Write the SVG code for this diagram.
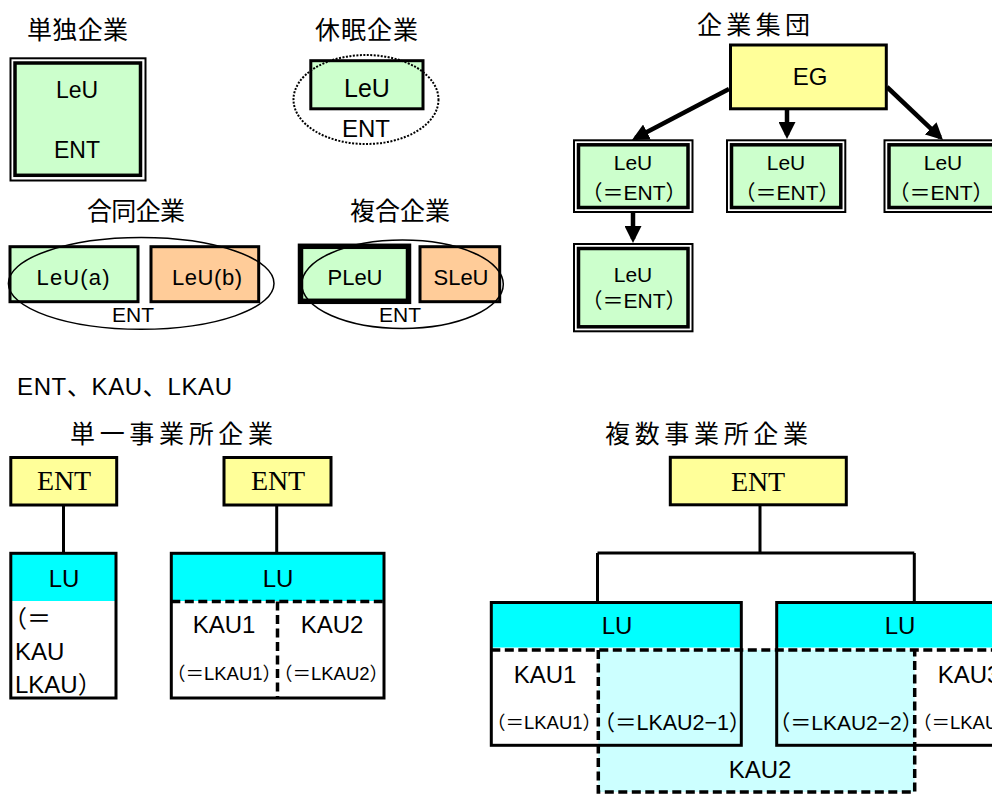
<svg xmlns="http://www.w3.org/2000/svg" width="992" height="796" viewBox="0 0 992 796">
<defs>
<style>
.t{font-family:"Liberation Sans","Noto Sans CJK JP",sans-serif;fill:#000}
.h{font-family:"Noto Sans CJK JP","Liberation Sans",sans-serif;font-size:25px;fill:#000}
.sf{font-family:"Liberation Serif","Noto Serif CJK JP",serif;font-size:28px;fill:#000}
.c{text-anchor:middle}
.g{fill:#ccffcc;stroke:#000;stroke-width:3}
.o{fill:#ffcc99;stroke:#000;stroke-width:3}
.y{fill:#ffff99;stroke:#000;stroke-width:3}
.dout{fill:#fff;stroke:#000;stroke-width:2}
.din{fill:#ccffcc;stroke:#000;stroke-width:3.5}
.ell{fill:none;stroke:#000;stroke-width:1.5}
.dot{fill:none;stroke:#000;stroke-width:2;stroke-dasharray:2 1.5}
.dash{fill:none;stroke:#000;stroke-width:3.5;stroke-dasharray:9 4.5}
.ln{fill:none;stroke:#000;stroke-width:3}
.box{fill:none;stroke:#000;stroke-width:3}
.arr{fill:none;stroke:#000;stroke-width:4.5;marker-end:url(#ah)}
</style>
<marker id="ah" markerUnits="userSpaceOnUse" markerWidth="17" markerHeight="17" refX="13" refY="8.5" orient="auto"><path d="M0,0 L17,8.5 L0,17 z" fill="#000"/></marker>
</defs>
<rect x="0" y="0" width="992" height="796" fill="#fff"/>

<g id="titles">
<text class="h" x="27" y="39" textLength="101">単独企業</text>
<text class="h" x="315" y="39" textLength="103">休眠企業</text>
<text class="h" x="87" y="220" textLength="98">合同企業</text>
<text class="h" x="350" y="220" textLength="100">複合企業</text>
<text class="h" x="697" y="34" font-size="26" textLength="113">企業集団</text>
<text class="t" x="17" y="395" font-size="24" textLength="215">ENT、KAU、LKAU</text>
<text class="h" x="70" y="443" font-size="26" textLength="203">単一事業所企業</text>
<text class="h" x="605" y="443" font-size="26" textLength="203">複数事業所企業</text>
</g>

<g id="sole">
<rect class="dout" x="10.5" y="58.3" width="135" height="122.2"/>
<rect class="din" x="15" y="63" width="125.5" height="112.3"/>
<text class="t c" x="77" y="98" font-size="23">LeU</text>
<text class="t c" x="77" y="158" font-size="23">ENT</text>
</g>

<g id="dormant">
<rect class="g" x="310.8" y="60.7" width="112.2" height="48.1"/>
<text class="t c" x="367" y="97" font-size="25">LeU</text>
<ellipse class="dot" cx="366" cy="99.5" rx="72.5" ry="44.5"/>
<text class="t c" x="366" y="137" font-size="24">ENT</text>
</g>

<g id="joint">
<rect class="g" x="10" y="246.7" width="128" height="55"/>
<rect class="o" x="151" y="246.7" width="107.7" height="55"/>
<text class="t c" x="73" y="285" font-size="22" textLength="73">LeU(a)</text>
<text class="t c" x="207" y="285" font-size="22" textLength="70">LeU(b)</text>
<ellipse class="ell" cx="141.2" cy="283.4" rx="132.8" ry="45.9"/>
<text class="t c" x="133" y="322" font-size="21">ENT</text>
</g>

<g id="complex">
<rect fill="#ccffcc" stroke="#000" stroke-width="5.5" x="300.5" y="246.3" width="108" height="55"/>
<rect class="o" x="420" y="246.7" width="79.7" height="55"/>
<text class="t c" x="355" y="285" font-size="22">PLeU</text>
<text class="t c" x="461" y="285" font-size="22">SLeU</text>
<ellipse class="ell" cx="402.5" cy="284.2" rx="100.8" ry="44.2"/>
<text class="t c" x="400" y="322" font-size="21">ENT</text>
</g>

<g id="eg">
<rect class="y" x="730.5" y="45" width="155.8" height="63.8"/>
<text class="t c" x="810" y="85" font-size="24">EG</text>
</g>

<g id="leu1">
<rect class="dout" x="574" y="140.3" width="118.5" height="71.7"/>
<rect class="din" x="578.5" y="144.8" width="109.5" height="62.7"/>
<text class="t c" x="633" y="170" font-size="21">LeU</text>
<text class="t c" x="634" y="200" font-size="21">（＝ENT）</text>
</g>
<g id="leu2">
<rect class="dout" x="727" y="140.3" width="118.3" height="71.7"/>
<rect class="din" x="731.5" y="144.8" width="109.3" height="62.7"/>
<text class="t c" x="786" y="170" font-size="21">LeU</text>
<text class="t c" x="787" y="200" font-size="21">（＝ENT）</text>
</g>
<g id="leu3">
<rect class="dout" x="884.5" y="140.3" width="118.5" height="71.7"/>
<rect class="din" x="889" y="144.8" width="109.5" height="62.7"/>
<text class="t c" x="943" y="170" font-size="21">LeU</text>
<text class="t c" x="941" y="200" font-size="21">（＝ENT）</text>
</g>
<g id="leu4">
<rect class="dout" x="574" y="244" width="118.5" height="87.3"/>
<rect class="din" x="578.5" y="248.5" width="109.5" height="78.3"/>
<text class="t c" x="633" y="282" font-size="21">LeU</text>
<text class="t c" x="634" y="308" font-size="21">（＝ENT）</text>
</g>

<g id="eg-connectors">
<line class="arr" x1="729" y1="89" x2="635.5" y2="138.1"/>
<line class="arr" x1="787" y1="109" x2="787" y2="135"/>
<line class="arr" x1="887" y1="87" x2="940.1" y2="137.3"/>
<line class="arr" x1="633" y1="212" x2="633" y2="239"/>
</g>

<g id="single-ent1">
<rect class="y" x="10.8" y="457.5" width="105.9" height="47.5"/>
<text class="sf c" x="64" y="490" textLength="54">ENT</text>
</g>
<g id="single-ent2">
<rect class="y" x="224" y="457.5" width="107" height="47.5"/>
<text class="sf c" x="278" y="490" textLength="54">ENT</text>
</g>
<g id="single-connectors">
<line class="ln" x1="63.5" y1="505" x2="63.5" y2="553"/>
<line class="ln" x1="276.7" y1="505" x2="276.7" y2="553"/>
</g>
<g id="single-lu1">
<rect x="10.8" y="553.3" width="105.2" height="144.7" fill="#fff"/>
<rect x="10.8" y="553.3" width="105.2" height="47.7" fill="#00ffff"/>
<rect class="box" x="10.8" y="553.3" width="105.2" height="144.7"/>
<text class="t c" x="64" y="587" font-size="24">LU</text>
<text class="t" x="3" y="627" font-size="24">（＝</text>
<text class="t" x="15" y="660" font-size="24">KAU</text>
<text class="t" x="15" y="693" font-size="24">LKAU）</text>
</g>
<g id="single-lu2">
<rect x="171.3" y="553.3" width="212.7" height="144.7" fill="#fff"/>
<rect x="171.3" y="553.3" width="212.7" height="47.7" fill="#00ffff"/>
<rect class="box" x="171.3" y="553.3" width="212.7" height="144.7"/>
<path class="dash" d="M171.3,601.5 H384 M277.5,601.5 V698"/>
<text class="t c" x="278" y="587" font-size="24">LU</text>
<text class="t c" x="224" y="633" font-size="24">KAU1</text>
<text class="t c" x="332" y="633" font-size="24">KAU2</text>
<text class="t c" x="224" y="680" font-size="18.5">（＝LKAU1）</text>
<text class="t c" x="331" y="680" font-size="18.5">（＝LKAU2）</text>
</g>

<g id="multi-ent">
<rect class="y" x="670.3" y="457.3" width="176" height="47.5"/>
<text class="sf c" x="758" y="491" textLength="54">ENT</text>
</g>
<g id="multi-connectors">
<path class="ln" d="M760,505 V553 M597.5,553 H914.3 M597.5,553 V602 M914.3,553 V602"/>
</g>
<g id="multi-lu-fills">
<rect x="491.3" y="602.5" width="250" height="142.8" fill="#fff"/>
<rect x="491.3" y="602.5" width="250" height="45" fill="#00ffff"/>
<rect x="776.7" y="602.5" width="250" height="142.8" fill="#fff"/>
<rect x="776.7" y="602.5" width="250" height="45" fill="#00ffff"/>
</g>
<g id="multi-kau2">
<rect x="598.3" y="650" width="316.4" height="142" fill="#ccffff"/>
</g>
<g id="multi-lu1">
<rect class="box" x="491.3" y="602.5" width="250" height="142.8"/>
<text class="t c" x="617" y="634" font-size="24">LU</text>
<text class="t c" x="545" y="683" font-size="24">KAU1</text>
<text class="t c" x="544" y="729" font-size="18.5">（＝LKAU1）</text>
<text class="t c" x="672" y="730" font-size="21.5">（＝LKAU2−1）</text>
</g>
<g id="multi-lu2">
<rect class="box" x="776.7" y="602.5" width="250" height="142.8"/>
<text class="t c" x="900" y="634" font-size="24">LU</text>
<text class="t c" x="846" y="730" font-size="21">（＝LKAU2−2）</text>
<text class="t c" x="969" y="683" font-size="24">KAU3</text>
<text class="t c" x="970" y="729" font-size="18.5">（＝LKAU3）</text>
</g>
<g id="multi-dashes">
<path class="dash" d="M491.3,650 H992 M598.3,650 V792 H914.7 V650"/>
<text class="t c" x="760" y="778" font-size="24">KAU2</text>
</g>
</svg>
